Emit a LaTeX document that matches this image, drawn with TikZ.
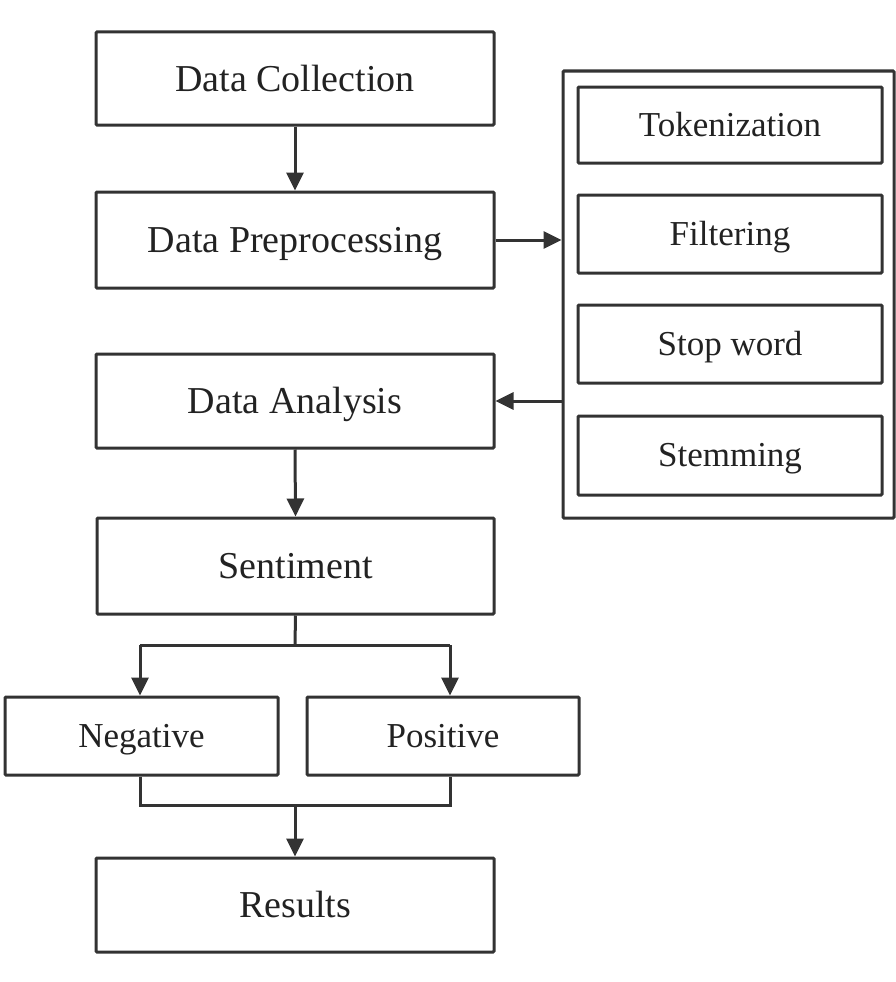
\documentclass[tikz,border=0pt]{standalone}
\usepackage{fontspec}
\setmainfont{Liberation Serif}
\usetikzlibrary{arrows.meta,calc}
\definecolor{lc}{HTML}{333333}
\definecolor{tc}{HTML}{222222}
\begin{document}
\begin{tikzpicture}[x=1pt,y=-1pt,
  box/.style={draw=lc, line width=3pt, inner sep=0pt, rounded corners=1pt, text=tc},
  bigtxt/.style={font=\fontsize{38}{40}\selectfont, text height=25pt, text depth=0pt},
  smalltxt/.style={font=\fontsize{35}{38}\selectfont, text height=22pt, text depth=0pt},
  conn/.style={draw=lc, line width=3pt},
  arr/.style={conn, -{Triangle[length=18pt,width=17pt]}}
]
\fill[white] (0,0) rectangle (896,982);
\useasboundingbox (0,0) rectangle (896,982);

% main column
\node[box, bigtxt, minimum width=398pt, minimum height=93pt] (dc) at (295,78.5) {Data Collection};
\node[box, bigtxt, minimum width=398pt, minimum height=96pt] (dp) at (295,240) {Data Preprocessing};
\node[box, bigtxt, minimum width=398pt, minimum height=94pt] (da) at (295,401) {Data Analysis};
\node[box, bigtxt, minimum width=397pt, minimum height=96pt] (se) at (295.5,566) {Sentiment};
\node[box, smalltxt, minimum width=273pt, minimum height=78pt] (neg) at (141.5,736) {Negative};
\node[box, smalltxt, minimum width=272pt, minimum height=78pt] (pos) at (443,736) {Positive};
\node[box, bigtxt, minimum width=398pt, minimum height=94pt] (res) at (295,905) {Results};

% preprocessing panel
\node[box, minimum width=331pt, minimum height=447pt] (panel) at (728.5,294.5) {};
\node[box, smalltxt, minimum width=304pt, minimum height=76pt] (tok) at (730,125) {Tokenization};
\node[box, smalltxt, minimum width=304pt, minimum height=78pt] (fil) at (730,234) {Filtering};
\node[box, smalltxt, minimum width=304pt, minimum height=78pt] (stw) at (730,344) {Stop word};
\node[box, smalltxt, minimum width=304pt, minimum height=79pt] (stm) at (730,455.5) {Stemming};

% branch coordinates
\coordinate (sj) at (295,645);
\coordinate (bl) at (140,645);
\coordinate (br) at (450,645);
\coordinate (ml) at (140,805);
\coordinate (mr) at (450,805);
\coordinate (mj) at (295,805);

% connectors
\draw[arr] (dc.south) -- (dp.north);
\draw[arr] (dp.east) -- (dp.east -| panel.west);
\draw[arr] (panel.west |- da.east) -- (da.east);
\draw[arr] (da.south) -- (se.north);
\draw[conn] (se.south) -- (sj);
\draw[conn] (bl) -- (br);
\draw[arr] (bl) -- (bl |- neg.north);
\draw[arr] (br) -- (br |- pos.north);
\draw[conn] (neg.south -| ml) -- (ml) -- (mr) -- (pos.south -| mr);
\draw[arr] (mj) -- (res.north);
\end{tikzpicture}
\end{document}
